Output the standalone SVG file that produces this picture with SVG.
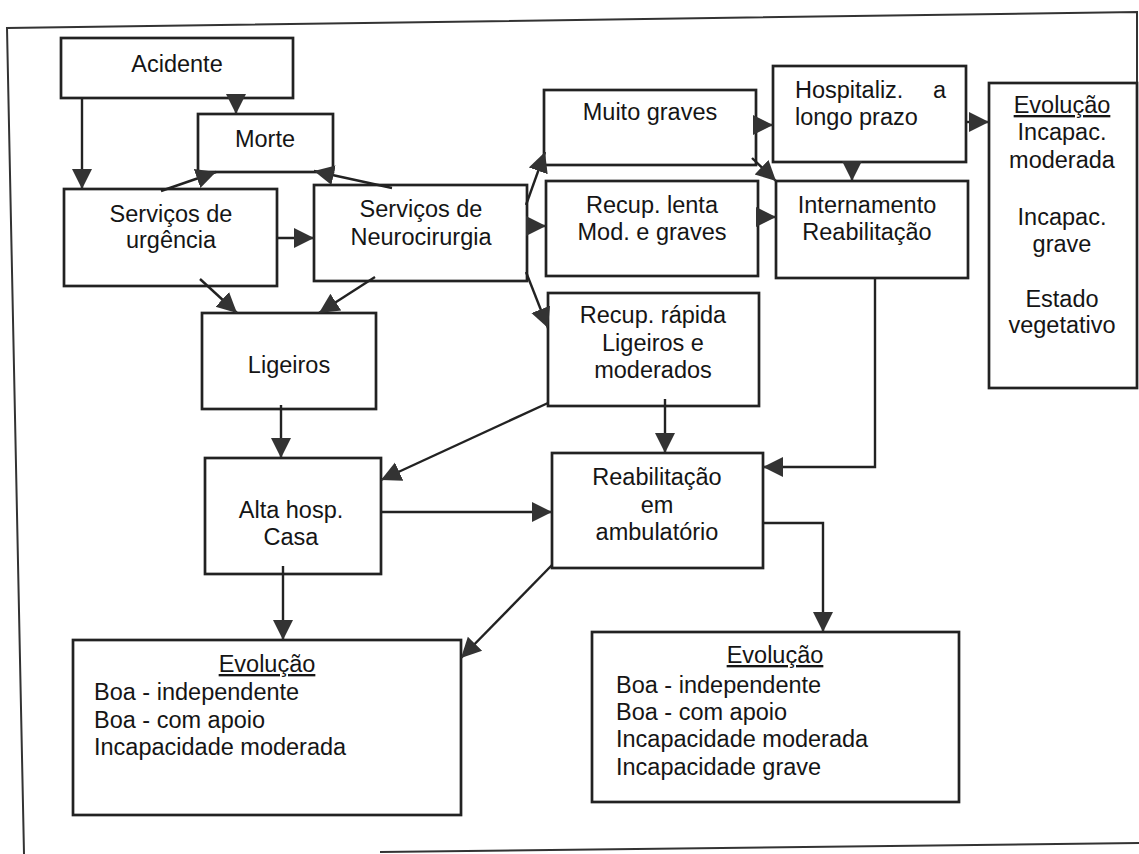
<svg xmlns="http://www.w3.org/2000/svg" width="1139" height="854" viewBox="0 0 1139 854">
<style>
.box{fill:#fff;stroke:#222;stroke-width:2.7}
.t{font-family:"Liberation Sans",Arial,sans-serif;font-size:23.5px;fill:#151515}
.c{text-anchor:middle}
.u{text-decoration:underline}
.ln{fill:none;stroke:#222;stroke-width:2.4}
.frame{fill:none;stroke:#333;stroke-width:2}
</style>
<defs>
<marker id="ah" markerUnits="userSpaceOnUse" markerWidth="22" markerHeight="22" refX="20" refY="11" orient="auto">
<path d="M0,1 L20,11 L0,21 z" fill="#333"/>
</marker>
</defs>
<rect width="1139" height="854" fill="#fff"/>
<g id="frame">
<path class="frame" d="M1137,83 L1137,12 L7,28 L24,854"/>
<path class="frame" d="M380,852 L1139,843"/>
</g>
<g id="n-acidente"><rect class="box" x="61" y="38" width="232" height="60"/><text class="t c" x="177" y="72">Acidente</text></g>
<g id="n-morte"><rect class="box" x="198" y="114" width="135" height="58"/><text class="t c" x="265" y="147">Morte</text></g>
<g id="n-urgencia"><rect class="box" x="64" y="189" width="213" height="97"/><text class="t c" x="171" y="222">Serviços de</text><text class="t c" x="171" y="248">urgência</text></g>
<g id="n-neuro"><rect class="box" x="314" y="185" width="213" height="96"/><text class="t c" x="421" y="217">Serviços de</text><text class="t c" x="421" y="245">Neurocirurgia</text></g>
<g id="n-ligeiros"><rect class="box" x="202" y="313" width="174" height="96"/><text class="t c" x="289" y="373">Ligeiros</text></g>
<g id="n-alta"><rect class="box" x="205" y="458" width="176" height="116"/><text class="t c" x="291" y="518">Alta hosp.</text><text class="t c" x="291" y="545">Casa</text></g>
<g id="n-muito"><rect class="box" x="544" y="90" width="212" height="75"/><text class="t c" x="650" y="120">Muito graves</text></g>
<g id="n-hosp"><rect class="box" x="773" y="66" width="193" height="96"/><text class="t" x="795" y="98">Hospitaliz. <tspan x="933">a</tspan></text><text class="t" x="795" y="125">longo prazo</text></g>
<g id="n-evol-r"><rect class="box" x="989" y="83" width="148" height="305"/>
<text class="t c u" x="1062" y="113">Evolução</text>
<text class="t c" x="1062" y="140">Incapac.</text>
<text class="t c" x="1062" y="168">moderada</text>
<text class="t c" x="1062" y="225">Incapac.</text>
<text class="t c" x="1062" y="252">grave</text>
<text class="t c" x="1062" y="307">Estado</text>
<text class="t c" x="1062" y="333">vegetativo</text></g>
<g id="n-lenta"><rect class="box" x="546" y="181" width="212" height="95"/><text class="t c" x="652" y="213">Recup. lenta</text><text class="t c" x="652" y="240">Mod. e graves</text></g>
<g id="n-intern"><rect class="box" x="776" y="181" width="192" height="97"/><text class="t c" x="867" y="213">Internamento</text><text class="t c" x="867" y="240">Reabilitação</text></g>
<g id="n-rapida"><rect class="box" x="548" y="293" width="211" height="113"/><text class="t c" x="653" y="323">Recup. rápida</text><text class="t c" x="653" y="351">Ligeiros e</text><text class="t c" x="653" y="378">moderados</text></g>
<g id="n-reab"><rect class="box" x="552" y="453" width="211" height="115"/><text class="t c" x="657" y="485">Reabilitação</text><text class="t c" x="657" y="513">em</text><text class="t c" x="657" y="540">ambulatório</text></g>
<g id="n-evol-l"><rect class="box" x="73" y="640" width="388" height="175"/>
<text class="t c u" x="267" y="672">Evolução</text>
<text class="t" x="94" y="700">Boa - independente</text>
<text class="t" x="94" y="728">Boa - com apoio</text>
<text class="t" x="94" y="755">Incapacidade moderada</text></g>
<g id="n-evol-b"><rect class="box" x="592" y="632" width="367" height="170"/>
<text class="t c u" x="775" y="663">Evolução</text>
<text class="t" x="616" y="693">Boa - independente</text>
<text class="t" x="616" y="720">Boa - com apoio</text>
<text class="t" x="616" y="747">Incapacidade moderada</text>
<text class="t" x="616" y="775">Incapacidade grave</text></g>
<g id="connectors" class="ln" marker-end="url(#ah)">
<path d="M236,98 L236,114"/>
<path d="M82,98 L82,189"/>
<path d="M161,191 L216,172"/>
<path d="M392,188 L314,171"/>
<path d="M277,238 L314,238"/>
<path d="M200,279 L237,313"/>
<path d="M375,277 L319,313"/>
<path d="M281,405 L281,458"/>
<path d="M526,205 L545,152"/>
<path d="M526,226 L546,226"/>
<path d="M526,272 L548,328"/>
<path d="M756,125 L773,125"/>
<path d="M966,122 L989,122"/>
<path d="M752,158 L776,181"/>
<path d="M852,162 L852,181"/>
<path d="M758,217 L776,217"/>
<path d="M875,278 L875,467 L763,467"/>
<path d="M548,403 L381,480"/>
<path d="M665,399 L665,453"/>
<path d="M381,512 L552,512"/>
<path d="M283,566 L283,640"/>
<path d="M552,565 L461,658"/>
<path d="M763,523 L823,523 L823,632"/>
</g>
</svg>
